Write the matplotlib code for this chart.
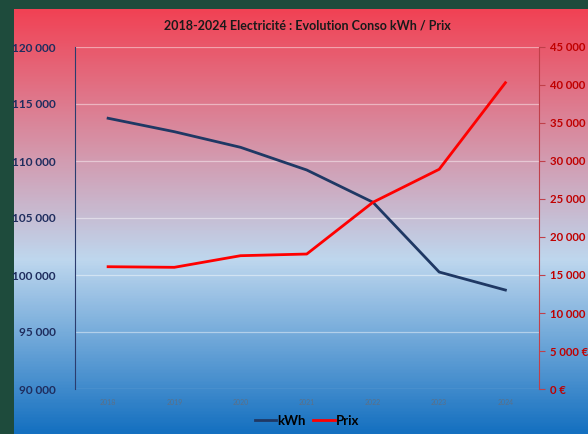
import numpy as np
import matplotlib
matplotlib.use("Agg")
import matplotlib.pyplot as plt
from matplotlib.colors import LinearSegmentedColormap
from matplotlib.lines import Line2D

years = ["2018", "2019", "2020", "2021", "2022", "2023", "2024"]
kwh = [113750, 112570, 111200, 109210, 106380, 100260, 98680]
prix = [16090, 16010, 17540, 17760, 24570, 28910, 40300]
left_ticks = [90000, 95000, 100000, 105000, 110000, 115000, 120000]
left_labels = ["90 000", "95 000", "100 000", "105 000", "110 000", "115 000", "120 000"]
right_ticks = [0, 5000, 10000, 15000, 20000, 25000, 30000, 35000, 40000, 45000]
right_labels = ["0 €", "5 000 €", "10 000", "15 000", "20 000", "25 000", "30 000", "35 000", "40 000", "45 000"]
title = "2018-2024 Electricité : Evolution Conso kWh / Prix"

W, H = 588, 434
fig = plt.figure(figsize=(W / 100, H / 100), dpi=100)
fig.patch.set_facecolor("#1E4B3C")

# gradient background of chart area
bg = fig.add_axes([14 / W, 0, (W - 14) / W, (H - 9) / H], zorder=0)
cmap = LinearSegmentedColormap.from_list(
    "g", [(0.0, (241/255, 66/255, 84/255)), (251/425, (190/255, 215/255, 238/255)), (1.0, (20/255, 112/255, 192/255))])
grad = np.linspace(0, 1, 400).reshape(-1, 1)
bg.imshow(grad, aspect="auto", cmap=cmap, extent=[0, 1, 0, 1], origin="upper")
bg.set_axis_off()

font = "Lato"
x0, x1 = 75, 538.5
y0, y1 = 47, 389
ax = fig.add_axes([x0 / W, 1 - y1 / H, (x1 - x0) / W, (y1 - y0) / H], zorder=2)
ax.patch.set_alpha(0)
x = np.arange(len(years))
ax.set_xlim(-0.5, len(years) - 0.5)
ax.set_ylim(90000, 120000)
ax.set_yticks(left_ticks)
ax.set_yticklabels(left_labels, fontsize=8.5, fontweight="bold", color="#1F2D5E", family=font)
ax.tick_params(axis="y", length=0, pad=14)
ax.set_xticks(x)
ax.set_xticklabels(years, fontsize=5, color="#5A7088", family=font)
ax.tick_params(axis="x", length=0, pad=7)
ax.grid(axis="y", color="white", alpha=0.45, linewidth=0.9)
ax.set_axisbelow(True)
for s in ["top", "right", "bottom"]:
    ax.spines[s].set_visible(False)
ax.spines["left"].set_color("#2B3C6E")
ax.spines["left"].set_linewidth(0.8)
l1, = ax.plot(x, kwh, color="#1F3864", linewidth=2.0, zorder=3)

ax2 = ax.twinx()
ax2.set_zorder(3)
ax2.set_ylim(0, 45000)
ax2.set_yticks(right_ticks)
ax2.set_yticklabels(right_labels, fontsize=8.2, fontweight="bold", color="#C00000", family=font)
ax2.tick_params(axis="y", length=4, color="#C0404A", pad=4)
for s in ["top", "left", "bottom"]:
    ax2.spines[s].set_visible(False)
ax2.spines["right"].set_color("#C0404A")
ax2.spines["right"].set_linewidth(0.8)
l2, = ax2.plot(x, prix, color="#FF0000", linewidth=2.0, zorder=3)

fig.text(307 / W, 1 - 25 / H, title, ha="center", va="center",
         fontsize=9, fontweight="bold", color="#1A1A1A", family=font)

handles = [Line2D([0], [0], color="#1F3864", linewidth=2), Line2D([0], [0], color="#FF0000", linewidth=2)]
fig.legend(handles, ["kWh", "Prix"], loc="center", bbox_to_anchor=(307 / W, 1 - 421 / H), ncol=2,
           frameon=False, handlelength=1.6, handletextpad=0.1, columnspacing=0.6,
           prop={"family": font, "weight": "bold", "size": 9.5})

fig.savefig("out.png", dpi=100, facecolor=fig.get_facecolor())
